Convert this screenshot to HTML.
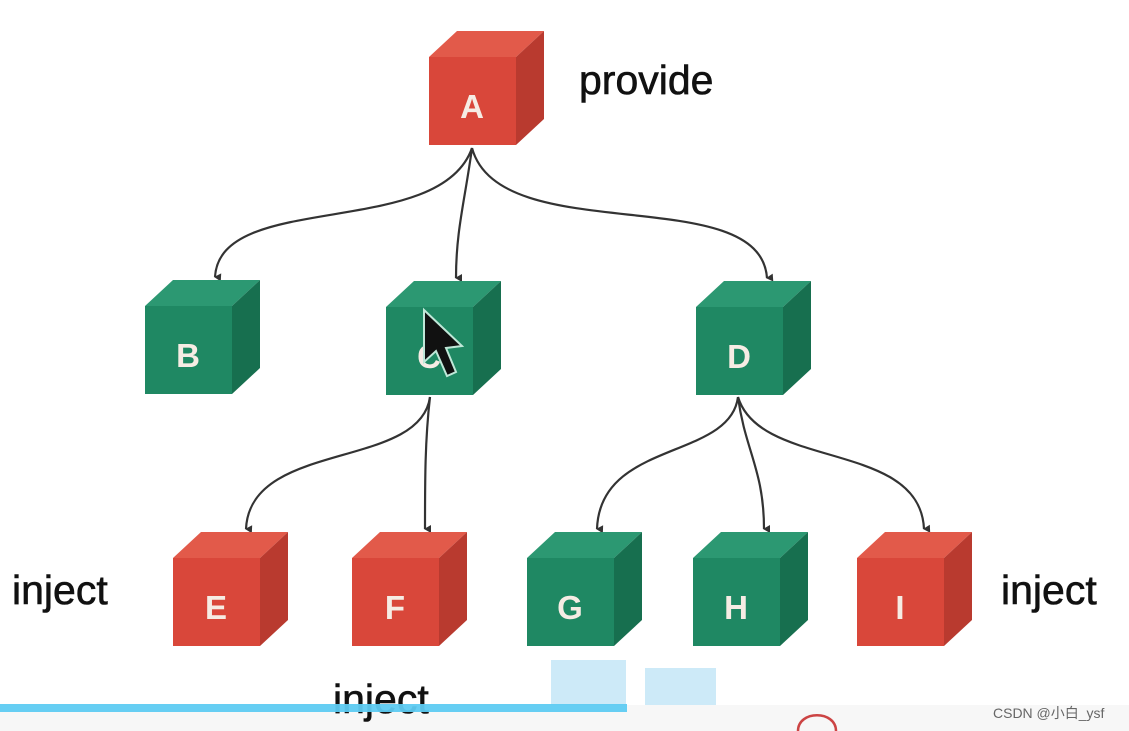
<!DOCTYPE html>
<html><head><meta charset="utf-8"><style>
html,body{margin:0;padding:0;background:#fff;width:1129px;height:731px;overflow:hidden}
svg text{font-family:"Liberation Sans","Noto Sans CJK SC",sans-serif}
</style></head><body>
<svg width="1129" height="731" viewBox="0 0 1129 731" xmlns="http://www.w3.org/2000/svg">
<defs>
<g id="red">
<polygon points="0,26 28,0 115,0 87,26" fill="#e25a4a"/>
<polygon points="87,26 115,0 115,88 87,114" fill="#b93a2f"/>
<rect x="0" y="26" width="87" height="88" fill="#d9473a"/>
</g>
<g id="green">
<polygon points="0,26 28,0 115,0 87,26" fill="#2c9872"/>
<polygon points="87,26 115,0 115,88 87,114" fill="#176f4f"/>
<rect x="0" y="26" width="87" height="88" fill="#1f8863"/>
</g>
<marker id="ar" markerWidth="10" markerHeight="10" refX="5" refY="8" orient="auto" markerUnits="userSpaceOnUse">
<path d="M1,2 L5,9 L9,2 Z" fill="#333"/>
</marker>
</defs>
<rect x="0" y="0" width="1129" height="731" fill="#fff"/>
<g fill="none" stroke="#333" stroke-width="2.2" marker-end="url(#ar)">
<path d="M472,148 C440,240 220,190 215,277"/>
<path d="M472,148 C465,200 456,230 456,278"/>
<path d="M472,148 C500,250 760,180 767,278"/>
<path d="M430,397 C420,470 250,440 246,529"/>
<path d="M430,397 C425,440 425,480 425,529"/>
<path d="M738,397 C730,460 600,440 597,529"/>
<path d="M738,397 C745,450 764,470 764,529"/>
<path d="M738,397 C760,470 920,440 924,529"/>
</g>
<use href="#red" x="429" y="31"/>
<use href="#green" x="145" y="280"/>
<use href="#green" x="386" y="281"/>
<use href="#green" x="696" y="281"/>
<use href="#red" x="173" y="532"/>
<use href="#red" x="352" y="532"/>
<use href="#green" x="527" y="532"/>
<use href="#green" x="693" y="532"/>
<use href="#red" x="857" y="532"/>
<g fill="#f6ece4" font-size="33" font-weight="bold" text-anchor="middle">
<text x="472" y="118">A</text>
<text x="188" y="367">B</text>
<text x="429" y="368">C</text>
<text x="739" y="368">D</text>
<text x="216" y="619">E</text>
<text x="395" y="619">F</text>
<text x="570" y="619">G</text>
<text x="736" y="619">H</text>
<text x="900" y="619">I</text>
</g>
<path d="M424,310 L424,362 L436,351 L447,376 L456,372 L446,348 L462,346 Z" fill="#111" stroke="#bfe8d8" stroke-width="2"/>
<g fill="#111" font-size="41" stroke="#111" stroke-width="0.6">
<text x="579" y="94">provide</text>
<text x="12" y="604">inject</text>
<text x="1001" y="604">inject</text>
</g>
<rect x="0" y="705" width="1129" height="26" fill="#f7f7f7"/>
<rect x="551" y="660" width="75" height="45" fill="#cdeaf8"/>
<rect x="645" y="668" width="71" height="37" fill="#cdeaf8"/>
<text x="333" y="713" font-size="41" fill="#111" stroke="#111" stroke-width="0.6">inject</text>
<rect x="0" y="704" width="627" height="8" fill="#5ecbf2" opacity="0.95"/>
<path d="M798,731 C798,710 836,710 836,731" fill="none" stroke="#c44" stroke-width="2.5"/>
<text x="993" y="718" font-size="14" fill="#666">CSDN @小白_ysf</text>
</svg>
</body></html>
